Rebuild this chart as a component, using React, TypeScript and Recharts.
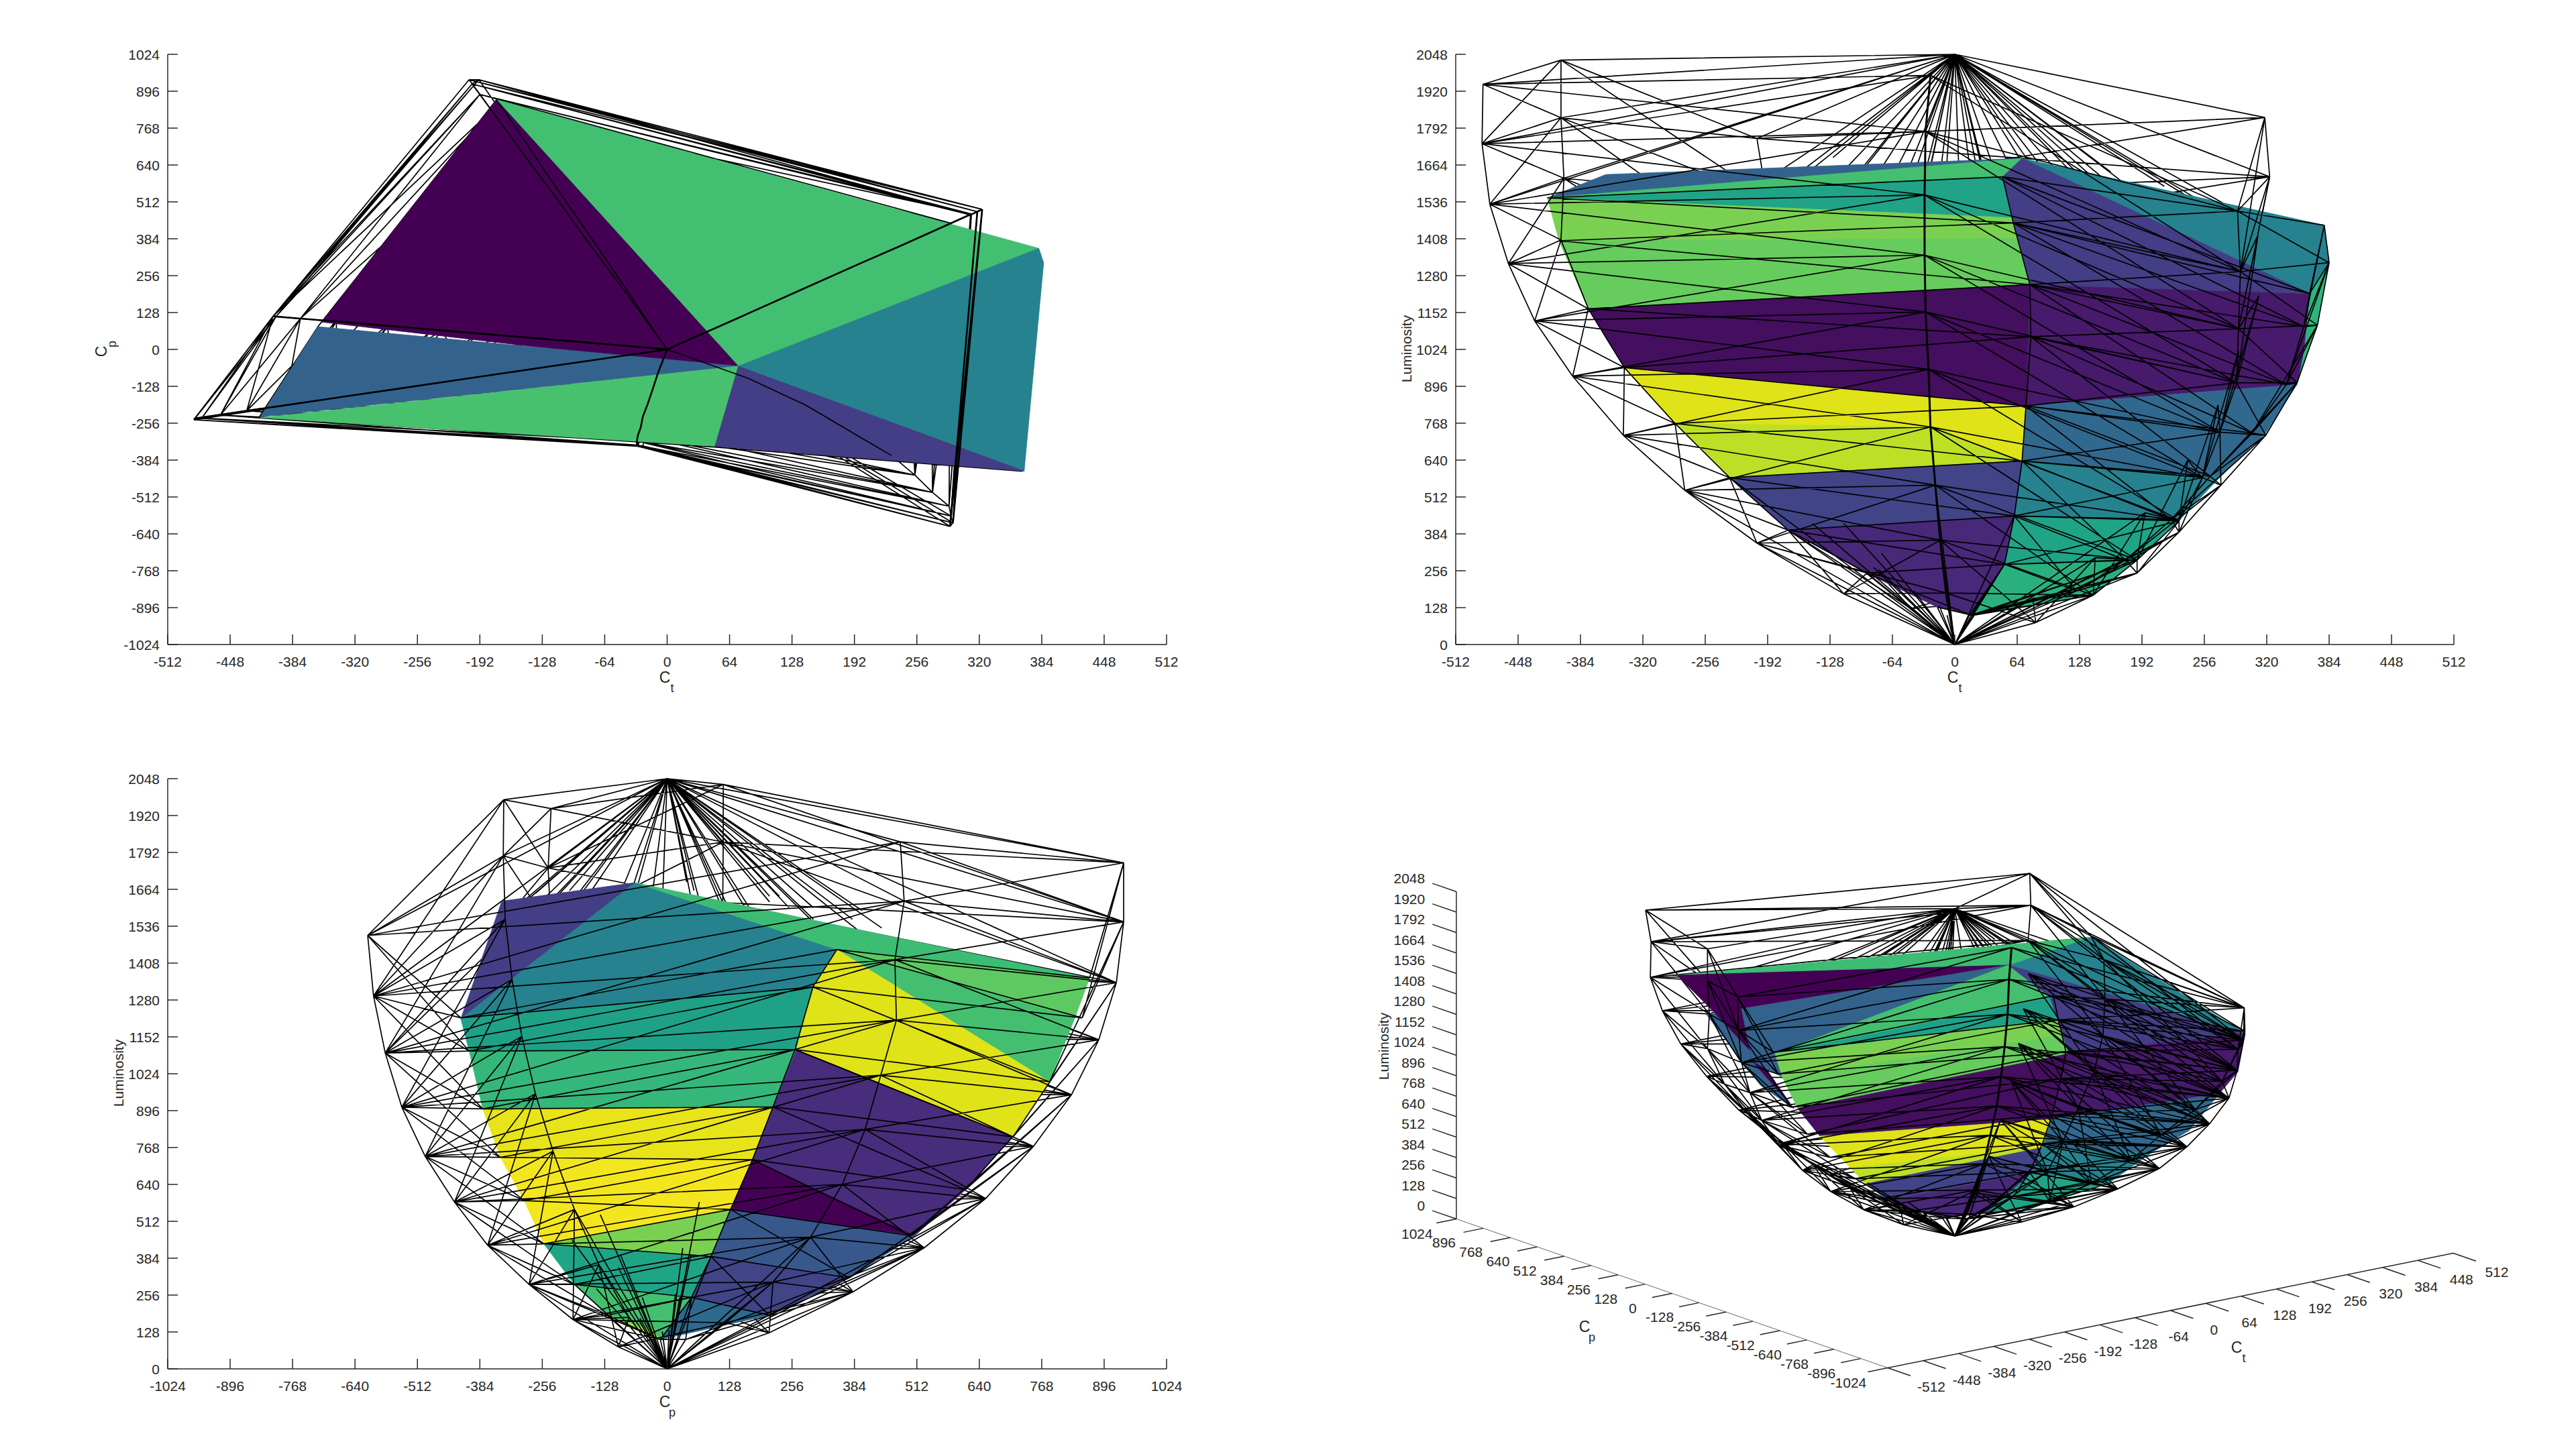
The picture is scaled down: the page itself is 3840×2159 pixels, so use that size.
import React from "react"
import { ScatterChart, Scatter, XAxis, YAxis } from "recharts"

type V3 = [number, number, number]
type P2 = [number, number]

const ctTicks = [-512, -448, -384, -320, -256, -192, -128, -64, 0, 64, 128, 192, 256, 320, 384, 448, 512]
const cpTicks = [-1024, -896, -768, -640, -512, -384, -256, -128, 0, 128, 256, 384, 512, 640, 768, 896, 1024]
const lumTicks = [0, 128, 256, 384, 512, 640, 768, 896, 1024, 1152, 1280, 1408, 1536, 1664, 1792, 1920, 2048]

// outer hull, one list per corner, [Ct, Cp, Luminosity] from the corner down to black
const colP1: V3[] = [[-484, -238, 1944], [-485, -244, 1738], [-477, -238, 1528], [-458, -228, 1322], [-431, -213, 1123], [-392, -194, 931], [-340, -168, 726], [-277, -137, 535], [-203, -100, 352], [-114, -56, 176]]
const colP6: V3[] = [[-404, 115, 2028], [-404, 115, 1828], [-401, 114, 1618], [-404, 115, 1404], [-376, 107, 1165], [-339, 97, 961], [-287, 82, 767], [-231, 66, 579], [-171, 49, 397], [-90, 26, 248]]
const colP2: V3[] = [[-203, 936, 1756], [-193, 936, 1551], [-200, 921, 1340], [-192, 885, 1142], [-180, 829, 951], [-163, 751, 772], [-142, 653, 591], [-114, 527, 420], [-83, 381, 267], [-45, 209, 125]]
const colP3: V3[] = [[318, 478, 1829], [323, 486, 1623], [311, 467, 1420], [312, 470, 1210], [291, 438, 1019], [270, 406, 831], [239, 359, 640], [195, 294, 457], [144, 217, 301], [80, 120, 160]]
const colP4: V3[] = [[290, -614, 1504], [293, -602, 1294], [291, -578, 1096], [289, -544, 908], [272, -496, 737], [254, -436, 579], [230, -368, 429], [187, -283, 293], [142, -193, 171], [83, -100, 76]]
const colP5: V3[] = [[-25, -335, 1975], [-30, -336, 1780], [-31, -332, 1560], [-31, -318, 1351], [-30, -298, 1154], [-27, -270, 955], [-25, -234, 755], [-20, -190, 553], [-15, -140, 362], [-9, -78, 179]]
const white: V3 = [0, 0, 2048]
const black: V3 = [0, 0, 0]
const topFan: V3[] = [
  [-96, -230, 1640], [-74, -155, 1660], [-51, -80, 1620], [-33, -10, 1600], [-25, 55, 1660], [-10, 115, 1590], [16, 210, 1640], [30, 120, 1620],
  [45, 250, 1600], [75, -60, 1680], [90, 300, 1560], [124, 180, 1570], [146, -120, 1550], [194, 330, 1500], [246, 60, 1540],
  [-150, -180, 1640], [-125, 40, 1690], [-108, 160, 1600], [-60, -220, 1650], [-45, 300, 1600], [-15, -290, 1630], [5, 380, 1560],
  [22, -200, 1660], [38, 440, 1530], [58, -270, 1650], [102, 70, 1600], [160, 230, 1640], [175, -40, 1520], [215, 400, 1590], [-190, 210, 1620],
]

// coloured gamut edges
const colQ1: V3[] = [[-418, -234, 1550], [-406, -226, 1401], [-376, -210, 1165], [-339, -190, 961], [-287, -161, 767], [-231, -129, 579], [-171, -96, 397], [-91, -51, 248], [-18, -10, 130]]
const colQ6: V3[] = [[-358, 79, 1631], [-345, 76, 1480], [-320, 71, 1230], [-290, 64, 1010], [-245, 54, 810], [-198, 44, 610], [-146, 32, 420], [-78, 17, 260], [-16, 4, 135]]
const colQ2: V3[] = [[-175, 866, 1356], [-172, 851, 1218], [-158, 784, 996], [-143, 709, 805], [-124, 612, 622], [-101, 500, 462], [-75, 373, 316], [-42, 209, 186], [-8, 38, 102]]
const colQ3: V3[] = [[379, 348, 1455], [384, 299, 1325], [372, 262, 1108], [351, 217, 909], [319, 175, 726], [273, 130, 553], [230, 90, 390], [187, 50, 248], [20, -14, 102]]
const colQ4: V3[] = [[364, -423, 1218], [358, -406, 1103], [340, -378, 902], [305, -342, 734], [262, -293, 584], [222, -253, 434], [175, -190, 293], [125, -123, 186], [15, -14, 102]]
const colQ5: V3[] = [[49, -339, 1623], [60, -335, 1463], [77, -325, 1249], [78, -300, 1068], [73, -270, 828], [69, -235, 637], [61, -195, 446], [51, -145, 278], [17, -14, 102]]

// painted faces, polygon vertices in axis units of each view
const topFaces: { color: string; pts: P2[] }[] = [
  { color: "#43bf71", pts: [[-175, 867], [381, 351], [73, -58]] },
  { color: "#440154", pts: [[-175, 867], [73, -58], [-33, -31], [-354, 95]] },
  { color: "#33638d", pts: [[-358, 79], [73, -58], [-417, -234]] },
  { color: "#48c16e", pts: [[-417, -237], [73, -58], [49, -336]] },
  { color: "#26828e", pts: [[381, 351], [386, 301], [366, -422], [73, -58]] },
  { color: "#433e85", pts: [[73, -58], [366, -422], [49, -336]] },
]
const ctFaces: { color: string; pts: P2[] }[] = [
  { color: "#26828e", pts: [[69, 1687], [379, 1455], [384, 1325], [364, 1218]] },
  { color: "#2fb47c", pts: [[364, 1218], [384, 1325], [372, 1111], [351, 902]] },
  { color: "#33638d", pts: [[-418, 1550], [-358, 1631], [69, 1687]] },
  { color: "#44bf70", pts: [[-418, 1550], [69, 1687], [49, 1623]] },
  { color: "#20a386", pts: [[-418, 1550], [49, 1623], [59, 1481]] },
  { color: "#7ad151", pts: [[-418, 1550], [59, 1481], [69, 1409], [-406, 1401]] },
  { color: "#66cc5d", pts: [[-406, 1401], [69, 1409], [77, 1249], [-376, 1165]] },
  { color: "#440f5e", pts: [[-376, 1165], [77, 1249], [73, 828], [-339, 961]] },
  { color: "#471a6c", pts: [[77, 1249], [364, 1218], [358, 1019], [351, 902], [73, 828]] },
  { color: "#433e85", pts: [[49, 1623], [69, 1687], [364, 1218], [77, 1249], [59, 1481]] },
  { color: "#dfe318", pts: [[-339, 961], [73, 828], [69, 637], [-26, 755], [-287, 767]] },
  { color: "#bddf26", pts: [[-287, 767], [-26, 755], [69, 637], [-231, 579]] },
  { color: "#414487", pts: [[-231, 579], [69, 637], [62, 446], [-171, 397]] },
  { color: "#482878", pts: [[-171, 397], [62, 446], [51, 278], [18, 102], [-18, 130], [-91, 248]] },
  { color: "#31688e", pts: [[73, 828], [351, 902], [319, 734], [273, 584], [69, 637]] },
  { color: "#26828e", pts: [[69, 637], [273, 584], [230, 431], [62, 446]] },
  { color: "#20a486", pts: [[62, 446], [230, 431], [187, 293], [51, 278]] },
  { color: "#2ab07f", pts: [[51, 278], [187, 293], [142, 171], [18, 102]] },
]
const cpFaces: { color: string; pts: P2[] }[] = [
  { color: "#433e85", pts: [[-66, 1687], [-339, 1623], [-423, 1215]] },
  { color: "#26828e", pts: [[-66, 1687], [348, 1455], [299, 1325], [-423, 1215]] },
  { color: "#3dbc74", pts: [[-66, 1687], [866, 1356], [348, 1455]] },
  { color: "#1fa187", pts: [[-423, 1215], [299, 1325], [265, 1108], [-406, 1103]] },
  { color: "#35b779", pts: [[-406, 1103], [265, 1108], [217, 909], [-378, 902]] },
  { color: "#e8e419", pts: [[-378, 902], [217, 909], [175, 726], [-342, 734]] },
  { color: "#f4e61e", pts: [[-342, 734], [175, 726], [130, 553], [-253, 434], [-293, 584]] },
  { color: "#7ad151", pts: [[-253, 434], [130, 553], [90, 390]] },
  { color: "#20a486", pts: [[-253, 434], [90, 390], [50, 248], [-190, 293]] },
  { color: "#44bf70", pts: [[-190, 293], [50, 248], [-14, 102], [-123, 186]] },
  { color: "#a0da39", pts: [[-123, 186], [-30, 133], [-14, 102]] },
  { color: "#5ec962", pts: [[348, 1455], [866, 1356], [836, 1218]] },
  { color: "#44bf70", pts: [[348, 1455], [836, 1218], [784, 996]] },
  { color: "#dfe318", pts: [[348, 1455], [784, 996], [709, 805], [265, 1108], [299, 1325]] },
  { color: "#472d7b", pts: [[265, 1108], [709, 805], [612, 622], [508, 462], [175, 726], [217, 909]] },
  { color: "#440154", pts: [[175, 726], [508, 462], [130, 553]] },
  { color: "#38588c", pts: [[130, 553], [508, 462], [374, 316], [90, 390]] },
  { color: "#414487", pts: [[90, 390], [374, 316], [210, 186], [50, 248]] },
  { color: "#2e6a8e", pts: [[50, 248], [210, 186], [-14, 102]] },
]
// view plane units of the 3D panel
const viewFaces: { color: string; pts: P2[] }[] = [
  { color: "#26828e", pts: [[80, 404], [203, 446], [433, 302]] },
  { color: "#3dbc74", pts: [[-414, 389], [203, 446], [80, 404]] },
  { color: "#33638d", pts: [[-370, 330], [-318, 339], [-302, 261], [-240, 190], [-290, 225]] },
  { color: "#440154", pts: [[-414, 389], [80, 404], [-318, 339], [-302, 261], [-240, 190], [-285, 255], [-360, 335]] },
  { color: "#33638d", pts: [[-318, 339], [80, 404], [-268, 272], [-257, 237], [-302, 261]] },
  { color: "#44bf70", pts: [[-268, 272], [80, 404], [142, 356]] },
  { color: "#1fa187", pts: [[-268, 272], [142, 356], [159, 324]] },
  { color: "#7ad151", pts: [[-268, 272], [159, 324], [164, 300], [-257, 237]] },
  { color: "#66cc5d", pts: [[-257, 237], [164, 300], [170, 272], [-234, 190]] },
  { color: "#440f5e", pts: [[-234, 190], [170, 272], [142, 174], [-201, 149]] },
  { color: "#433e85", pts: [[80, 404], [433, 302], [170, 272], [142, 356]] },
  { color: "#471a6c", pts: [[170, 272], [433, 302], [422, 245], [394, 212], [142, 174]] },
  { color: "#31688e", pts: [[142, 174], [394, 212], [349, 157], [293, 124], [130, 132]] },
  { color: "#26828e", pts: [[130, 132], [293, 124], [231, 80], [114, 94]] },
  { color: "#20a486", pts: [[114, 94], [231, 80], [114, 42], [46, 34]] },
  { color: "#dfe318", pts: [[-201, 149], [142, 174], [130, 132], [-156, 102]] },
  { color: "#bddf26", pts: [[-156, 102], [130, 132], [-133, 78]] },
  { color: "#414487", pts: [[-133, 78], [130, 132], [114, 94], [-100, 53]] },
  { color: "#482878", pts: [[-100, 53], [114, 94], [46, 34], [-10, 28], [-43, 34]] },
]

type Edge = [V3, V3]
const hullCols = [colP1, colP6, colP2, colP3, colP4, colP5]
const gamutCols = [colQ1, colQ6, colQ2, colQ3, colQ4, colQ5]

function ringEdges(a: V3[], b: V3[], bothDiagonals: boolean): Edge[] {
  const edges: Edge[] = []
  const n = Math.min(a.length, b.length)
  for (let r = 0; r < n; r++) {
    edges.push([a[r], b[r]])
    if (r + 1 < n) {
      edges.push([a[r], b[r + 1]])
      if (bothDiagonals) edges.push([a[r + 1], b[r]])
    }
  }
  return edges
}

function colEdges(col: V3[], end: V3): Edge[] {
  const edges: Edge[] = []
  col.forEach((v, r) => edges.push([v, r + 1 < col.length ? col[r + 1] : end]))
  return edges
}

const whiteFan: Edge[] = [
  ...hullCols.flatMap((c) => [[white, c[0]], [white, c[1]], [white, c[2]]] as Edge[]),
  ...topFan.map((v) => [white, v] as Edge),
]
const blackFan: Edge[] = [...hullCols, ...gamutCols].flatMap((c) => [[black, c[c.length - 3]], [black, c[c.length - 2]], [black, c[c.length - 1]]] as Edge[])
const hullCol: Edge[] = hullCols.flatMap((c) => colEdges(c, black))
const hullRing: Edge[] = hullCols.flatMap((c, i) => ringEdges(c, hullCols[(i + 1) % 6], true))
const gamutRing: Edge[] = gamutCols.flatMap((c, i) => ringEdges(c, gamutCols[(i + 1) % 6], false))

// what lies behind the painted faces and what is drawn over them, per view
const topBack = [...whiteFan, ...blackFan, ...hullCol, ...hullRing, ...gamutRing]
const topFront = [
  ...colEdges(colP1, black), ...colEdges(colP6, black), ...colEdges(colP3, black), ...colEdges(colP5, black),
  [colP3[0], colP4[0]], [colP3[1], colP4[0]], [colP3[1], colP4[1]],
] as Edge[]
const topThin = [...colEdges(colP2, black).slice(2), ...colEdges(colQ2, black), ...colEdges(colP4, black).slice(6)]

const ctBack = [...whiteFan, ...ringEdges(colP6, colP2, true), ...ringEdges(colP2, colP3, true), ...colEdges(colP2, black), ...colEdges(colP3, black)]
const ctFront = [
  ...colEdges(colP1, black), ...colEdges(colP6, black), ...colEdges(colP4, black),
  ...ringEdges(colP1, colP6, true), ...ringEdges(colP5, colP1, true), ...ringEdges(colP4, colP5, true), ...ringEdges(colP3, colP4, true),
  ...ringEdges(colQ1, colQ5, false), ...ringEdges(colQ5, colQ4, true), ...ringEdges(colQ4, colQ3, true),
  ...ringEdges(colP4, colQ5, false), ...ringEdges(colP4, colQ3, false),
  ...colEdges(colQ3, colQ3[8]), ...colEdges(colQ4, colQ4[8]), ...colEdges(colQ5, colQ5[8]),
  ...blackFan,
]
const cpBack = [...whiteFan, ...ringEdges(colP1, colP6, true), ...ringEdges(colP6, colP2, true), ...ringEdges(colP5, colP1, true), ...colEdges(colP1, black), ...colEdges(colP6, black)]
const cpFront = [
  ...colEdges(colP5, black), ...colEdges(colP4, black), ...colEdges(colP3, black), ...colEdges(colP2, black),
  ...ringEdges(colP4, colP5, true), ...ringEdges(colP3, colP4, true), ...ringEdges(colP2, colP3, true),
  ...ringEdges(colQ4, colQ3, false), ...ringEdges(colQ3, colQ2, false), ...ringEdges(colP4, colQ4, true),
  ...ringEdges(colP2, colQ2, false), ...colEdges(colQ3, colQ3[8]),
  ...blackFan,
]
const viewFront = [...ctFront, ...ringEdges(colP1, colQ1, true), ...ringEdges(colP4, colQ4, true), ...ringEdges(colP3, colQ3, true)]
const heavyCol = colEdges(colP5, black)

const viewCt = (v: V3) => ({ x: v[0], y: v[2] })
const viewCp = (v: V3) => ({ x: v[1], y: v[2] })
const viewTop = (v: V3) => ({ x: v[0], y: v[1] })
const view3d = (v: V3) => ({
  x: v[0] * 0.8232 - v[1] * 0.314,
  y: v[0] * 0.167 + v[1] * 0.1084 + v[2] * 0.2383,
})

const FONT = "'Liberation Sans', Arial, sans-serif"
const INK = "#262626"
const noMark = () => <g />

function wires(edges: Edge[], view: (v: V3) => { x: number; y: number }, key: string, width = 1.7, color = "#000") {
  const data = edges.flatMap((e) => [view(e[0]), view(e[1])])
  return (
    <Scatter
      key={key}
      data={data}
      isAnimationActive={false}
      shape={noMark}
      line={(p: any) => {
        let d = ""
        for (let i = 0; i + 1 < p.points.length; i += 2) {
          d += `M${p.points[i].x} ${p.points[i].y}L${p.points[i + 1].x} ${p.points[i + 1].y}`
        }
        return <path d={d} fill="none" stroke={color} strokeWidth={width} />
      }}
    />
  )
}

function faces(list: { color: string; pts: P2[] }[], key: string) {
  return list.map((f, i) => (
    <Scatter
      key={key + i}
      data={f.pts.map((q) => ({ x: q[0], y: q[1] }))}
      isAnimationActive={false}
      shape={noMark}
      line={(p: any) => (
        <path
          d={"M" + p.points.map((q: any) => `${q.x} ${q.y}`).join("L") + "Z"}
          fill={f.color}
          stroke={f.color}
          strokeWidth={0.8}
        />
      )}
    />
  ))
}

const xTick = (p: any) => (
  <g>
    <line x1={p.x} x2={p.x} y1={p.y} y2={p.y - 15} stroke={INK} strokeWidth={1.5} />
    <text x={p.x} y={p.y + 33} textAnchor="middle" fontSize={21} fontFamily={FONT} fill={INK}>
      {p.payload.value}
    </text>
  </g>
)
const yTick = (p: any) => (
  <g>
    <line x1={p.x} x2={p.x + 15} y1={p.y} y2={p.y} stroke={INK} strokeWidth={1.5} />
    <text x={p.x - 12} y={p.y + 8} textAnchor="end" fontSize={21} fontFamily={FONT} fill={INK}>
      {p.payload.value}
    </text>
  </g>
)

function SubTitle({ x, y, main, sub, vertical }: { x: number; y: number; main: string; sub: string; vertical?: boolean }) {
  return (
    <g transform={vertical ? `rotate(-90 ${x} ${y})` : undefined} fontFamily={FONT} fill={INK}>
      <text x={x} y={y + 8} textAnchor="middle" fontSize={23}>{main}</text>
      <text x={x + 11} y={y + 22} textAnchor="middle" fontSize={18}>{sub}</text>
    </g>
  )
}

const lumTitle = (
  <text x={56} y={480} textAnchor="middle" dominantBaseline="central" transform="rotate(-90 56 480)" fontSize={21} fontFamily={FONT} fill={INK}>
    Luminosity
  </text>
)

function Panel(props: {
  left: number
  top: number
  height: number
  bottom: number
  plotRight: number
  xDomain: number[]
  xTicks: number[]
  yDomain: number[]
  yTicks: number[]
  xTitle: any
  yTitle: any
  children: any
}) {
  return (
    <div style={{ position: "absolute", left: props.left, top: props.top }}>
      <ScatterChart
        width={1720}
        height={props.height}
        margin={{ top: 41, right: props.plotRight, bottom: props.bottom, left: 0 }}
      >
        <XAxis
          type="number"
          dataKey="x"
          domain={props.xDomain}
          ticks={props.xTicks}
          interval={0}
          height={60}
          tickSize={0}
          tickMargin={0}
          tickLine={false}
          tick={xTick}
          axisLine={{ stroke: INK, strokeWidth: 1.5 }}
          label={() => props.xTitle}
        />
        <YAxis
          type="number"
          dataKey="y"
          domain={props.yDomain}
          ticks={props.yTicks}
          interval={0}
          width={130}
          tickSize={0}
          tickMargin={0}
          tickLine={false}
          tick={yTick}
          axisLine={{ stroke: INK, strokeWidth: 1.5 }}
          label={() => props.yTitle}
        />
        {props.children}
      </ScatterChart>
    </div>
  )
}

// 3D axes, in the same view plane units
const axisLines: Edge[] = [
  [[-512, -1024, 0], [512, -1024, 0]],
  [[-512, 1024, 0], [-512, 1024, 2048]],
]
const cpAxisLine: Edge[] = [[[-512, -1024, 0], [-512, 1024, 0]]]
const axisTicks: Edge[] = [
  ...ctTicks.map((t) => [[t, -1024, 0], [t, -1132, 0]] as Edge),
  ...cpTicks.map((t) => [[-512, t, 0], [-548, t, 0]] as Edge),
  ...lumTicks.map((t) => [[-512, 1024, t], [-512, 1138, t]] as Edge),
]

function labels3d() {
  const data = [
    ...ctTicks.map((t) => {
      const q = view3d([t, -1132, 0])
      return { x: q.x + 31, y: q.y - 16, text: String(t), anchor: "middle" }
    }),
    ...cpTicks.map((t) => {
      const q = view3d([-548, t, 0])
      return { x: q.x - 29, y: q.y - 15, text: String(t), anchor: "middle" }
    }),
    ...lumTicks.map((t) => {
      const q = view3d([-512, 1138, t])
      return { x: q.x - 11, y: q.y + 8, text: String(t), anchor: "end" }
    }),
  ]
  return (
    <Scatter
      data={data}
      isAnimationActive={false}
      shape={(p: any) => (
        <text x={p.cx} y={p.cy + 8} textAnchor={p.payload.anchor} fontSize={21} fontFamily={FONT} fill={INK}>
          {p.payload.text}
        </text>
      )}
    />
  )
}

const titles3d = [
  { x: 420, y: -166, main: "C", sub: "t" },
  { x: -552, y: -135, main: "C", sub: "p" },
]

export default function App() {
  return (
    <div style={{ position: "absolute", left: 0, top: 0, width: 3840, height: 2159, background: "#fff", overflow: "hidden" }}>
      <Panel
        left={120}
        top={40}
        height={1060}
        bottom={79}
        plotRight={101}
        xDomain={[-512, 512]}
        xTicks={ctTicks}
        yDomain={[-1024, 1024]}
        yTicks={cpTicks}
        xTitle={<SubTitle x={871} y={970} main="C" sub="t" />}
        yTitle={<SubTitle x={31} y={484} main="C" sub="p" vertical />}
      >
        {wires(topBack, viewTop, "top-back")}
        {faces(topFaces, "top")}
        {wires(topFront, viewTop, "top-front", 2.6)}
        {wires(topThin, viewTop, "top-thin")}
      </Panel>
      <Panel
        left={2040}
        top={40}
        height={1060}
        bottom={79}
        plotRight={102}
        xDomain={[-512, 512]}
        xTicks={ctTicks}
        yDomain={[0, 2048]}
        yTicks={lumTicks}
        xTitle={<SubTitle x={871} y={970} main="C" sub="t" />}
        yTitle={lumTitle}
      >
        {wires(ctBack, viewCt, "ct-back")}
        {faces(ctFaces, "ct")}
        {wires(ctFront, viewCt, "ct-front")}
        {wires(heavyCol, viewCt, "ct-heavy", 3)}
      </Panel>
      <Panel
        left={120}
        top={1120}
        height={1039}
        bottom={58}
        plotRight={101}
        xDomain={[-1024, 1024]}
        xTicks={cpTicks}
        yDomain={[0, 2048]}
        yTicks={lumTicks}
        xTitle={<SubTitle x={871} y={970} main="C" sub="p" />}
        yTitle={lumTitle}
      >
        {wires(cpBack, viewCp, "cp-back")}
        {faces(cpFaces, "cp")}
        {wires(cpFront, viewCp, "cp-front")}
      </Panel>
      <div style={{ position: "absolute", left: 2040, top: 1280 }}>
        <ScatterChart width={1800} height={879} margin={{ top: 0, right: 0, bottom: 0, left: 0 }}>
          <XAxis type="number" dataKey="x" domain={[-874, 926]} hide />
          <YAxis type="number" dataKey="y" domain={[-316, 563]} hide />
          {wires(ctBack, view3d, "v-back")}
          {faces(viewFaces, "v")}
          {wires(viewFront, view3d, "v-front")}
          {wires(heavyCol, view3d, "v-heavy", 3)}
          {wires(axisLines, view3d, "v-axes", 1.5, INK)}
          {wires(cpAxisLine, view3d, "v-cp", 0.7, INK)}
          {wires(axisTicks, view3d, "v-ticks", 1.5, INK)}
          {labels3d()}
          <Scatter
            data={titles3d}
            isAnimationActive={false}
            shape={(p: any) => <SubTitle x={p.cx} y={p.cy} main={p.payload.main} sub={p.payload.sub} />}
          />
          <Scatter
            data={[{ x: -852, y: 283 }]}
            isAnimationActive={false}
            shape={(p: any) => (
              <text x={p.cx} y={p.cy} textAnchor="middle" dominantBaseline="central" transform={`rotate(-90 ${p.cx} ${p.cy})`} fontSize={21} fontFamily={FONT} fill={INK}>
                Luminosity
              </text>
            )}
          />
        </ScatterChart>
      </div>
    </div>
  )
}
